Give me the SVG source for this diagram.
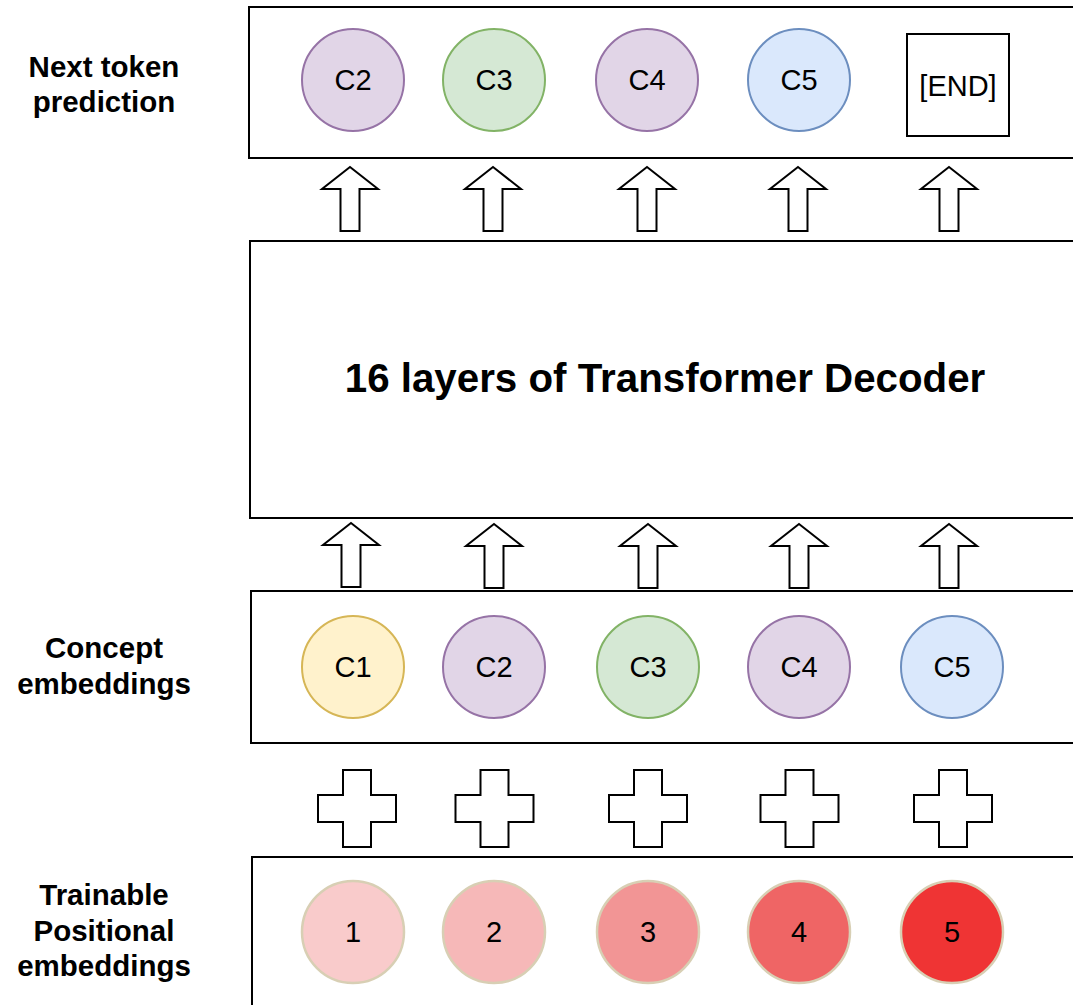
<svg xmlns="http://www.w3.org/2000/svg" width="1073" height="1005" viewBox="0 0 1073 1005">
  <style>
    .frame { fill: #ffffff; stroke: #000000; stroke-width: 2; }
    .label { font-family: "Liberation Sans", Arial, Helvetica, sans-serif; font-weight: bold; font-size: 29.5px; fill: #000; text-anchor: middle; }
    .big { font-family: "Liberation Sans", Arial, Helvetica, sans-serif; font-weight: bold; font-size: 40.3px; fill: #000; text-anchor: middle; }
    .tok { font-family: "Liberation Sans", Arial, Helvetica, sans-serif; font-size: 29px; fill: #000; text-anchor: middle; }
    .purple { fill: #e1d5e7; stroke: #9673a6; stroke-width: 2; }
    .green { fill: #d5e8d4; stroke: #82b366; stroke-width: 2; }
    .blue { fill: #dae8fc; stroke: #6c8ebf; stroke-width: 2; }
    .yellow { fill: #fff2cc; stroke: #d6b656; stroke-width: 2; }
    .pos { stroke: #d8cfb4; stroke-width: 2.5; }
    .shape { fill: #ffffff; stroke: #000000; stroke-width: 2; }
  </style>
  <defs>
    <!-- block arrow, tip at origin -->
    <path id="uparrow" d="M0,0 L28,22 L9.5,22 L9.5,64 L-9.5,64 L-9.5,22 L-28,22 Z"/>
    <!-- plus sign, centred on origin -->
    <path id="plus" d="M-14,-38.5 L14,-38.5 L14,-13.5 L39,-13.5 L39,13.5 L14,13.5 L14,38.5 L-14,38.5 L-14,13.5 L-39,13.5 L-39,-13.5 L-14,-13.5 Z"/>
  </defs>
  <rect width="1073" height="1005" fill="#ffffff"/>

  <!-- row labels -->
  <g id="label-next">
    <text class="label" x="104" y="77">Next token</text>
    <text class="label" x="104" y="112">prediction</text>
  </g>
  <g id="label-concept">
    <text class="label" x="104" y="658">Concept</text>
    <text class="label" x="104" y="694">embeddings</text>
  </g>
  <g id="label-positional">
    <text class="label" x="104" y="905">Trainable</text>
    <text class="label" x="104" y="941">Positional</text>
    <text class="label" x="104" y="976">embeddings</text>
  </g>

  <!-- output row -->
  <g id="output-row">
    <rect class="frame" x="249" y="7" width="850" height="151"/>
    <g id="out-c2"><circle class="purple" cx="353" cy="80" r="51"/><text class="tok" x="353" y="90">C2</text></g>
    <g id="out-c3"><circle class="green" cx="494" cy="80" r="51"/><text class="tok" x="494" y="90">C3</text></g>
    <g id="out-c4"><circle class="purple" cx="647" cy="80" r="51"/><text class="tok" x="647" y="90">C4</text></g>
    <g id="out-c5"><circle class="blue" cx="799" cy="80" r="51"/><text class="tok" x="799" y="90">C5</text></g>
    <g id="out-end"><rect class="frame" x="907" y="34" width="102" height="102"/><text class="tok" x="958" y="96">[END]</text></g>
  </g>

  <!-- decoder stack -->
  <g id="decoder">
    <rect class="frame" x="250" y="241" width="850" height="277"/>
    <text class="big" x="665" y="392">16 layers of Transformer Decoder</text>
  </g>

  <!-- concept row -->
  <g id="concept-row">
    <rect class="frame" x="251" y="591" width="850" height="152"/>
    <g id="in-c1"><circle class="yellow" cx="353" cy="667" r="51"/><text class="tok" x="353" y="677">C1</text></g>
    <g id="in-c2"><circle class="purple" cx="494" cy="667" r="51"/><text class="tok" x="494" y="677">C2</text></g>
    <g id="in-c3"><circle class="green" cx="648" cy="667" r="51"/><text class="tok" x="648" y="677">C3</text></g>
    <g id="in-c4"><circle class="purple" cx="799" cy="667" r="51"/><text class="tok" x="799" y="677">C4</text></g>
    <g id="in-c5"><circle class="blue" cx="952" cy="667" r="51"/><text class="tok" x="952" y="677">C5</text></g>
  </g>

  <!-- positional row -->
  <g id="positional-row">
    <rect class="frame" x="252" y="857" width="850" height="200"/>
    <g id="pos-1"><circle class="pos" fill="#f9cbcb" cx="353" cy="932" r="51"/><text class="tok" x="353" y="942">1</text></g>
    <g id="pos-2"><circle class="pos" fill="#f6b8b8" cx="494" cy="932" r="51"/><text class="tok" x="494" y="942">2</text></g>
    <g id="pos-3"><circle class="pos" fill="#f29595" cx="648" cy="932" r="51"/><text class="tok" x="648" y="942">3</text></g>
    <g id="pos-4"><circle class="pos" fill="#ef6565" cx="799" cy="932" r="51"/><text class="tok" x="799" y="942">4</text></g>
    <g id="pos-5"><circle class="pos" fill="#ef3434" cx="952" cy="932" r="51"/><text class="tok" x="952" y="942">5</text></g>
  </g>

  <!-- connectors: block arrows and plus signs -->
  <g id="connectors">
    <use href="#uparrow" class="shape" x="350" y="167"/>
    <use href="#uparrow" class="shape" x="493" y="167"/>
    <use href="#uparrow" class="shape" x="647" y="167"/>
    <use href="#uparrow" class="shape" x="798" y="167"/>
    <use href="#uparrow" class="shape" x="949" y="167"/>

    <use href="#uparrow" class="shape" x="351" y="523"/>
    <use href="#uparrow" class="shape" x="494" y="524"/>
    <use href="#uparrow" class="shape" x="648" y="524"/>
    <use href="#uparrow" class="shape" x="799" y="524"/>
    <use href="#uparrow" class="shape" x="949" y="524"/>

    <use href="#plus" class="shape" x="357" y="808.5"/>
    <use href="#plus" class="shape" x="494.5" y="808.5"/>
    <use href="#plus" class="shape" x="648" y="808.5"/>
    <use href="#plus" class="shape" x="799.5" y="808.5"/>
    <use href="#plus" class="shape" x="953" y="808.5"/>
  </g>
</svg>
